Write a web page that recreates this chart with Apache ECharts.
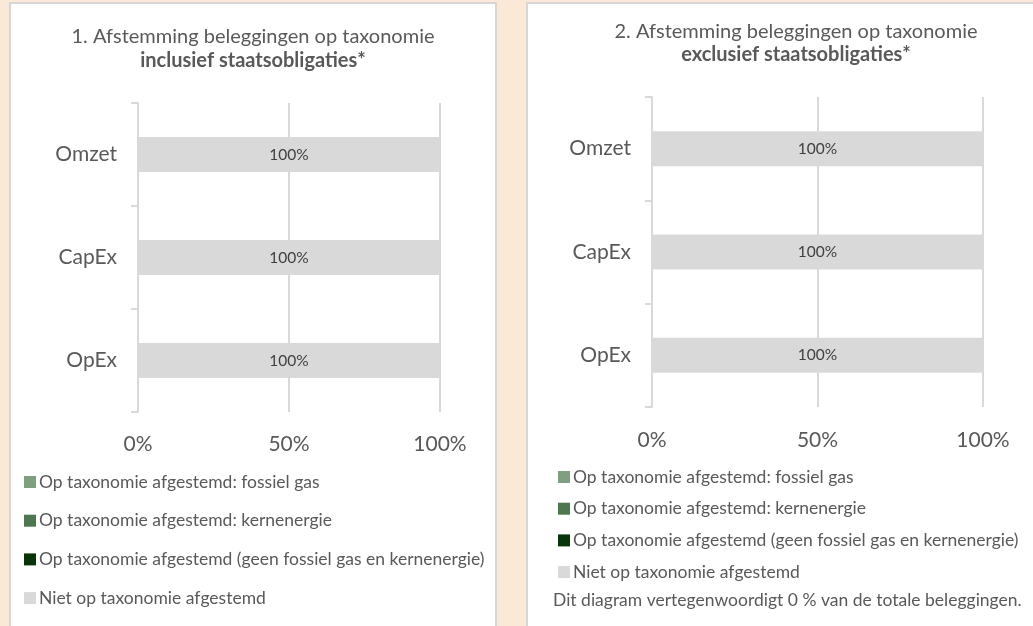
<!DOCTYPE html>
<html>
<head>
<meta charset="utf-8">
<script src="https://cdn.jsdelivr.net/npm/echarts@6/dist/echarts.min.js"></script>
<style>
html,body{margin:0;padding:0;background:#FBE9D8;}
#c{width:1033px;height:626px;}
</style>
</head>
<body>
<div id="c"></div>
<script>
// ---- data ----
const categories = ['Omzet', 'CapEx', 'OpEx'];
const seriesNames = [
  'Op taxonomie afgestemd: fossiel gas',
  'Op taxonomie afgestemd: kernenergie',
  'Op taxonomie afgestemd (geen fossiel gas en kernenergie)',
  'Niet op taxonomie afgestemd'
];
const xTickValues = [0, 50, 100];
// chart 1: inclusief staatsobligaties
const fossielGas1 = [0, 0, 0];
const kernenergie1 = [0, 0, 0];
const geenFossiel1 = [0, 0, 0];
const nietAfgestemd1 = [100, 100, 100];
// chart 2: exclusief staatsobligaties
const fossielGas2 = [0, 0, 0];
const kernenergie2 = [0, 0, 0];
const geenFossiel2 = [0, 0, 0];
const nietAfgestemd2 = [100, 100, 100];
const titles1 = ['1. Afstemming beleggingen op taxonomie', 'inclusief staatsobligaties*'];
const titles2 = ['2. Afstemming beleggingen op taxonomie', 'exclusief staatsobligaties*'];
const footnote2 = 'Dit diagram vertegenwoordigt 0 % van de totale beleggingen.';

// ---- style ----
const FONT = 'Lato, "Open Sans", sans-serif';
const TXT = '#595959';
const colors = ['#809F80', '#4E774F', '#0A340A', '#D9D9D9'];

const chart = echarts.init(document.getElementById('c'), null, {renderer: 'canvas'});

function makeSeries(gi, arrays) {
  return arrays.map((arr, i) => ({
    name: seriesNames[i],
    type: 'bar',
    stack: 'total' + gi,
    xAxisIndex: gi,
    yAxisIndex: gi,
    barWidth: 35,
    itemStyle: {color: colors[i]},
    label: {
      show: i === 3,
      position: 'inside',
      formatter: p => p.value + '%',
      color: '#404040',
      fontFamily: FONT,
      fontSize: 15.5
    },
    emphasis: {disabled: true},
    data: arr
  }));
}

function xAxis(gi, margin) {
  return {
    type: 'value', gridIndex: gi, min: xTickValues[0], max: xTickValues[xTickValues.length - 1],
    interval: xTickValues[1] - xTickValues[0],
    axisLine: {show: false}, axisTick: {show: false},
    splitLine: {show: true, lineStyle: {color: '#D9D9D9', width: 2}},
    axisLabel: {formatter: '{value}%', color: TXT, fontFamily: FONT, fontSize: 21, margin: margin}
  };
}
function yAxis(gi) {
  return {
    type: 'category', gridIndex: gi, data: categories, inverse: true,
    axisLine: {show: true, lineStyle: {color: '#D9D9D9', width: 2}},
    axisTick: {show: true, length: 7, lineStyle: {color: '#D9D9D9', width: 2}},
    axisLabel: {color: TXT, fontFamily: FONT, fontSize: 21, margin: 21}
  };
}
function legend(left, top, gap) {
  return {
    orient: 'vertical', left: left, top: top, itemGap: gap,
    itemWidth: 12, itemHeight: 12, icon: 'rect',
    data: seriesNames.slice(),
    selectedMode: false,
    textStyle: {color: TXT, fontFamily: FONT, fontSize: 17.5, lineHeight: 20, padding: [0, 0, 0, -2]}
  };
}
function text(x, y, t, opts) {
  return Object.assign({
    type: 'text', x: x, y: y,
    style: Object.assign({text: t, fill: TXT, font: '20px ' + FONT, textAlign: 'center', textVerticalAlign: 'middle'}, opts || {})
  });
}

chart.setOption({
  backgroundColor: '#FBE9D8',
  animation: false,
  graphic: [
    {type: 'rect', z: -10, shape: {x: 10, y: 3, width: 486, height: 640}, style: {fill: '#FFFFFF', stroke: '#D6D6D6', lineWidth: 2}},
    {type: 'rect', z: -10, shape: {x: 527, y: 3, width: 520, height: 640}, style: {fill: '#FFFFFF', stroke: '#D6D6D6', lineWidth: 2}},
    text(253, 37, titles1[0]),
    text(253, 61, titles1[1], {font: 'bold 20px ' + FONT}),
    text(796, 32, titles2[0]),
    text(796, 55, titles2[1], {font: 'bold 20px ' + FONT}),
    text(553, 600, footnote2, {textAlign: 'left', font: '17.5px ' + FONT})
  ],
  legend: [legend(19, 467, 18.7), legend(553, 462, 11.7)],
  grid: [
    {left: 138, top: 103, width: 302, height: 309},
    {left: 652, top: 97, width: 331, height: 310}
  ],
  xAxis: [xAxis(0, 22), xAxis(1, 23)],
  yAxis: [yAxis(0), yAxis(1)],
  series: [
    ...makeSeries(0, [fossielGas1, kernenergie1, geenFossiel1, nietAfgestemd1]),
    ...makeSeries(1, [fossielGas2, kernenergie2, geenFossiel2, nietAfgestemd2])
  ]
});
</script>
</body>
</html>
